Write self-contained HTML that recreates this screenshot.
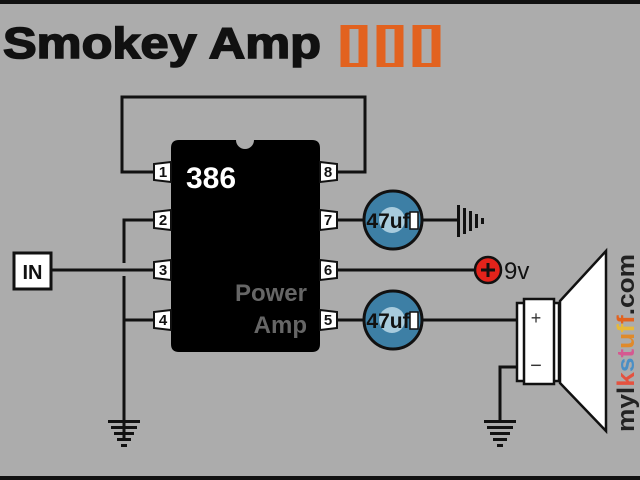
<!DOCTYPE html>
<html><head><style>
html,body{margin:0;padding:0;background:#acacac;width:640px;height:480px;overflow:hidden}
svg{display:block}
</style></head><body>
<svg width="640" height="480" viewBox="0 0 640 480" xmlns="http://www.w3.org/2000/svg" font-family="Liberation Sans, sans-serif">
<rect x="0" y="0" width="640" height="480" fill="#acacac"/>
<rect x="0" y="0" width="640" height="4" fill="#111"/>
<rect x="0" y="476" width="640" height="4" fill="#111"/>
<text x="3" y="58" font-size="44" font-weight="bold" fill="#111" stroke="#111" stroke-width="1.6" textLength="318" lengthAdjust="spacingAndGlyphs">Smokey Amp</text>
<g fill="none" stroke="#e2621f">
<g stroke-width="9"><line x1="345" y1="25" x2="345" y2="67"/><line x1="363" y1="25" x2="363" y2="67"/><line x1="381" y1="25" x2="381" y2="67"/><line x1="399" y1="25" x2="399" y2="67"/><line x1="417" y1="25" x2="417" y2="67"/><line x1="436" y1="25" x2="436" y2="67"/></g>
<g stroke-width="4"><rect x="345" y="27" width="18" height="38"/><rect x="381" y="27" width="18" height="38"/><rect x="417" y="27" width="19" height="38"/></g>
</g>
<g stroke="#111" stroke-width="3" fill="none">
<polyline points="155,172 122,172 122,97 365,97 365,172 337,172"/>
<polyline points="155,220 124,220 124,263"/>
<polyline points="124,276 124,440"/>
<line x1="124" y1="320" x2="155" y2="320"/>
<line x1="52" y1="270" x2="155" y2="270"/>
<line x1="337" y1="220" x2="365" y2="220"/>
<line x1="420" y1="220" x2="458" y2="220"/>
<line x1="337" y1="270" x2="478" y2="270"/>
<line x1="337" y1="320" x2="365" y2="320"/>
<line x1="420" y1="320" x2="518" y2="320"/>
<polyline points="518,367 500,367 500,420"/>
</g>
<g fill="#111">
<rect x="108" y="420" width="32" height="3"/><rect x="111" y="426" width="26" height="3"/><rect x="114" y="432" width="20" height="3"/><rect x="117" y="438" width="14" height="3"/><rect x="121" y="444" width="6" height="3"/>
<rect x="484" y="420" width="32" height="3"/><rect x="487" y="426" width="26" height="3"/><rect x="490" y="432" width="20" height="3"/><rect x="493" y="438" width="14" height="3"/><rect x="497" y="444" width="6" height="3"/>
<rect x="457" y="205" width="3" height="32"/><rect x="463" y="208" width="3" height="26"/><rect x="469" y="211" width="3" height="20"/><rect x="475" y="214" width="3" height="14"/><rect x="481" y="218" width="3" height="6"/>
</g>
<rect x="14" y="253" width="37" height="36" fill="#fff" stroke="#111" stroke-width="3"/>
<text x="32.5" y="279" font-size="20" font-weight="bold" text-anchor="middle" fill="#111">IN</text>
<path d="M179,140 L236,140 A9,9 0 0 0 254,140 L312,140 Q320,140 320,148 L320,344 Q320,352 312,352 L179,352 Q171,352 171,344 L171,148 Q171,140 179,140 Z" fill="#000"/>
<text x="186" y="188" font-size="30" font-weight="bold" fill="#fff">386</text>
<text x="307" y="301" font-size="24" font-weight="bold" fill="#666" text-anchor="end">Power</text>
<text x="307" y="333" font-size="24" font-weight="bold" fill="#666" text-anchor="end">Amp</text>
<g stroke="#111" stroke-width="2" fill="#fff">
<polygon points="171,162 154,164 154,180 171,182"/><polygon points="171,210 154,212 154,228 171,230"/>
<polygon points="171,260 154,262 154,278 171,280"/><polygon points="171,310 154,312 154,328 171,330"/>
<polygon points="320,162 337,164 337,180 320,182"/><polygon points="320,210 337,212 337,228 320,230"/>
<polygon points="320,260 337,262 337,278 320,280"/><polygon points="320,310 337,312 337,328 320,330"/>
</g>
<g font-size="15" font-weight="bold" fill="#111" text-anchor="middle">
<text x="163" y="177">1</text><text x="163" y="225">2</text><text x="163" y="275">3</text><text x="163" y="325">4</text>
<text x="328" y="177">8</text><text x="328" y="225">7</text><text x="328" y="275">6</text><text x="328" y="325">5</text>
</g>
<g>
<circle cx="393" cy="220" r="29" fill="#3d7fa5" stroke="#111" stroke-width="3"/>
<circle cx="392" cy="220" r="13" fill="#a8cbdd"/>
<rect x="410" y="212" width="8" height="17" fill="#fff" stroke="#111" stroke-width="1.5"/>
<text x="388" y="228" font-size="21" font-weight="bold" fill="#111" text-anchor="middle">47uf</text>
<circle cx="393" cy="320" r="29" fill="#3d7fa5" stroke="#111" stroke-width="3"/>
<circle cx="392" cy="320" r="13" fill="#a8cbdd"/>
<rect x="410" y="312" width="8" height="17" fill="#fff" stroke="#111" stroke-width="1.5"/>
<text x="388" y="328" font-size="21" font-weight="bold" fill="#111" text-anchor="middle">47uf</text>
</g>
<circle cx="488" cy="270" r="13" fill="#e3231b" stroke="#111" stroke-width="2.5"/>
<path d="M481,270 H495 M488,263 V277" stroke="#111" stroke-width="3"/>
<text x="504" y="279" font-size="24" fill="#111">9v</text>
<rect x="517" y="303" width="42" height="78" fill="#fff" stroke="#111" stroke-width="2.5"/>
<rect x="524" y="299" width="30" height="85" fill="#fff" stroke="#111" stroke-width="2.5"/>
<polygon points="560,301 606,251 606,431 560,383" fill="#fff" stroke="#111" stroke-width="2.5"/>
<text x="536" y="324" font-size="18" fill="#333" text-anchor="middle">+</text>
<text x="536" y="372" font-size="20" fill="#333" text-anchor="middle">−</text>
<text transform="translate(634,432) rotate(-90)" font-size="24" font-weight="bold" fill="#222" textLength="178" lengthAdjust="spacingAndGlyphs">myl<tspan fill="#e4523f">k</tspan><tspan fill="#4a8fc5">s</tspan><tspan fill="#d55a91">t</tspan><tspan fill="#e08a2a">u</tspan><tspan fill="#e7b93a">f</tspan><tspan fill="#e2621f">f</tspan>.com</text>
</svg>
</body></html>
